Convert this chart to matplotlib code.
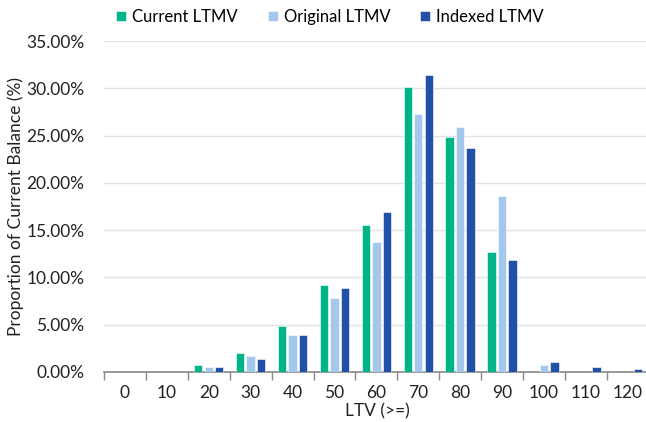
import numpy as np
import matplotlib
matplotlib.use("Agg")
import matplotlib.pyplot as plt
from matplotlib.ticker import FuncFormatter

plt.rcParams['font.family'] = ['Lato', 'DejaVu Sans']

ltv = ['0', '10', '20', '30', '40', '50', '60', '70', '80', '90', '100', '110', '120']
current = [0, 0, 0.74, 1.98, 4.86, 9.2, 15.5, 30.15, 24.9, 12.7, 0, 0, 0]
original = [0, 0, 0.53, 1.66, 3.95, 7.8, 13.7, 27.3, 25.9, 18.6, 0.74, 0, 0]
indexed = [0, 0, 0.5, 1.34, 3.95, 8.9, 16.9, 31.4, 23.7, 11.8, 1.06, 0.5, 0.36]

green = '#00B48A'
light = '#A3C8EB'
dark = '#2050A8'

fig = plt.figure(figsize=(6.46, 4.22), dpi=100)
ax = fig.add_axes([104 / 646, 50 / 422, 542 / 646, 331 / 422])

x = np.arange(len(ltv))
w = 0.2
step = 0.25
ax.bar(x - step, current, w, color=green, edgecolor='white', linewidth=0.4, label='Current LTMV', zorder=3)
ax.bar(x, original, w, color=light, edgecolor='white', linewidth=0.4, label='Original LTMV', zorder=3)
ax.bar(x + step, indexed, w, color=dark, edgecolor='white', linewidth=0.4, label='Indexed LTMV', zorder=3)

ax.set_xlim(-0.5, -0.5 + 542 / 41.9)
ax.set_ylim(0, 35)
ax.set_yticks(np.arange(0, 36, 5))
ax.yaxis.set_major_formatter(FuncFormatter(lambda v, p: '{:.2f}%'.format(v)))
ax.grid(axis='y', color='#E3E3E3', linewidth=1, zorder=0)

ax.set_xticks(x)
ax.set_xticklabels(ltv)
ax.set_xticks(np.arange(-0.5, 12, 1), minor=True)
ax.tick_params(axis='x', which='major', length=0, pad=9.5, labelsize=12.5, colors='#222222')
ax.tick_params(axis='x', which='minor', length=6, width=1, color='#888888', direction='out')
ax.tick_params(axis='y', length=0, pad=14, labelsize=12.5, colors='#222222')

for s in ['top', 'right', 'left']:
    ax.spines[s].set_visible(False)
ax.spines['bottom'].set_color('#888888')
ax.spines['bottom'].set_linewidth(1.2)

ax.set_xlabel('LTV (>=)', fontsize=12.5, color='#222222')
ax.xaxis.set_label_coords((377 - 104) / 542, -(411 - 372) / 331)
ax.xaxis.label.set_va('center')
ax.set_ylabel('Proportion of Current Balance (%)', fontsize=12.5, color='#222222')
ax.yaxis.set_label_coords(-(104 - 16) / 542, 0.5)
ax.yaxis.label.set_va('center')

ax.legend(loc='center', bbox_to_anchor=((330 - 104) / 542, 1 + (41 - 17) / 331), ncol=3, frameon=False,
          fontsize=12, handlelength=0.6, handleheight=0.6, handletextpad=0.35, columnspacing=1.8)

fig.savefig('out.png', dpi=100)
